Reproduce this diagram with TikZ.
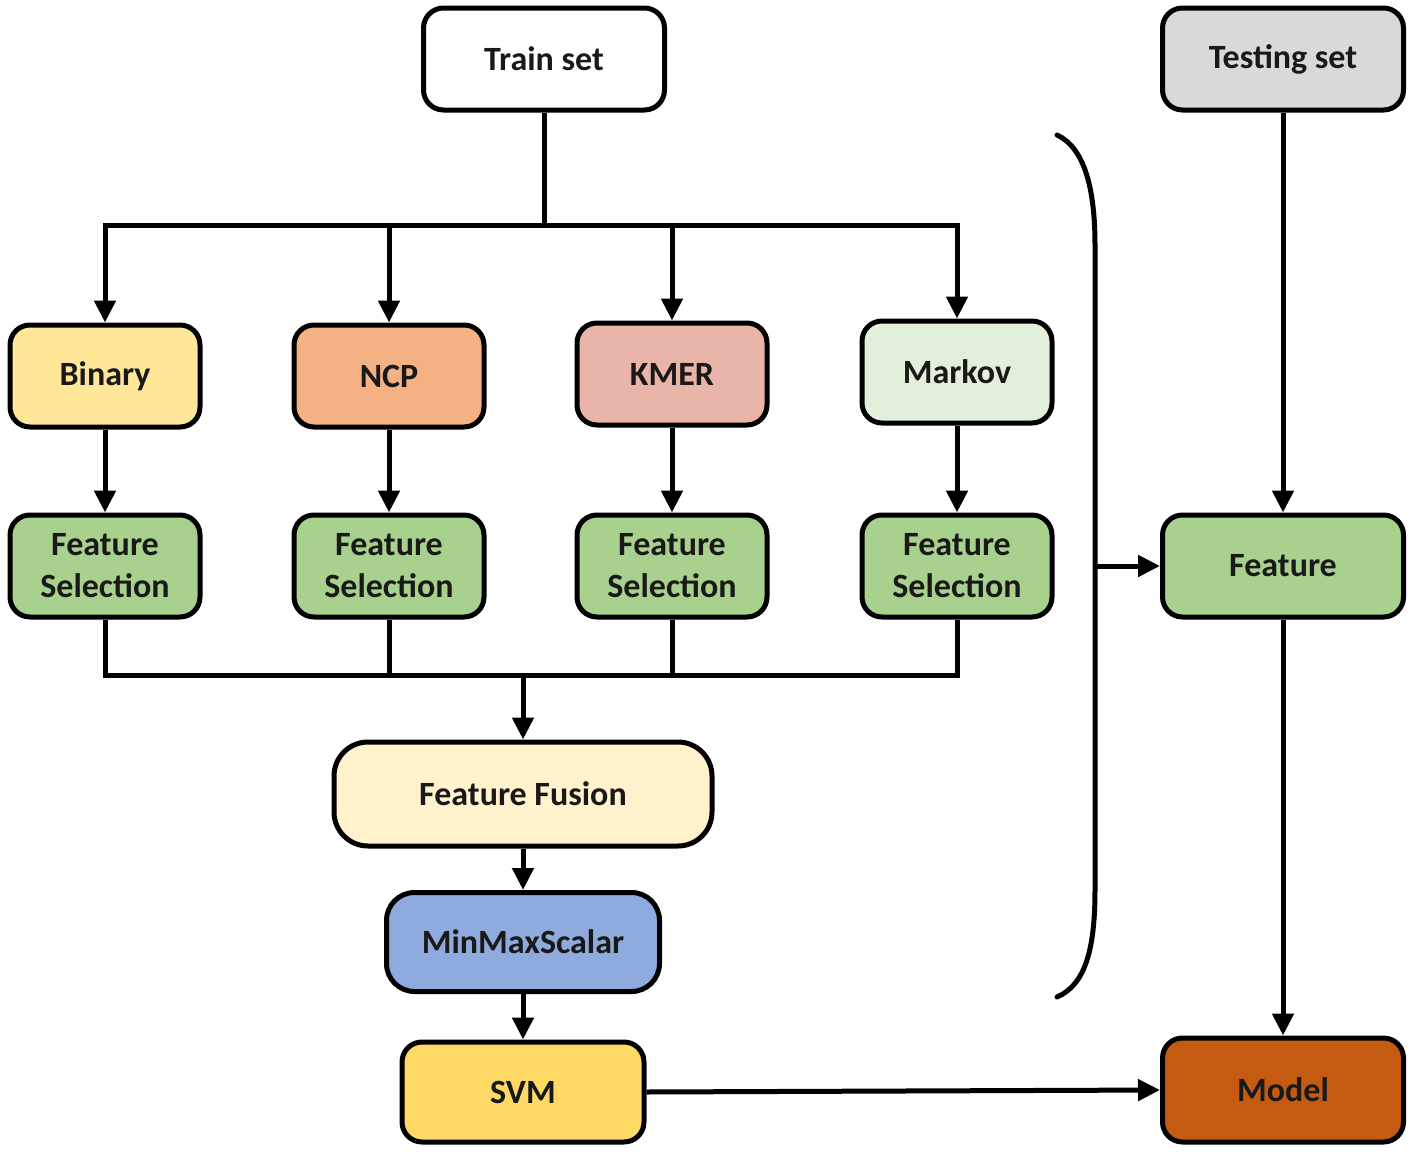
\documentclass[tikz,border=0pt]{standalone}
\usepackage{fontspec}
\setmainfont{Carlito}
\usetikzlibrary{arrows.meta}
\definecolor{cTest}{HTML}{D9D9D9}
\definecolor{cBin}{HTML}{FFE699}
\definecolor{cNCP}{HTML}{F4B183}
\definecolor{cKmer}{HTML}{E9B5A9}
\definecolor{cMarkov}{HTML}{E2EFDA}
\definecolor{cFS}{HTML}{A9D18E}
\definecolor{cFusion}{HTML}{FFF2CC}
\definecolor{cMinMax}{HTML}{8FAADC}
\definecolor{cSVM}{HTML}{FFD966}
\definecolor{cModel}{HTML}{C55A11}
\tikzset{
  box/.style={draw=black, line width=5pt, rounded corners=20pt, inner sep=0pt,
    minimum width=190pt, minimum height=102pt, align=center,
    font=\fontsize{34}{42}\selectfont\bfseries, text=black!90},
  wbox/.style={box, minimum width=241pt},
  conn/.style={line width=5pt, draw=black},
  arr/.style={conn, -{Triangle[width=21pt,length=22pt]}},
}
\begin{document}
\begin{tikzpicture}[x=1pt,y=-1pt]
\useasboundingbox (0,0) rectangle (1417,1159);
% nodes
\node[wbox, fill=white] (train) at (544,59) {Train set};
\node[wbox, fill=cTest] (test) at (1283,59) {Testing set};
\node[box, fill=cBin] (bin) at (105,376) {Binary};
\node[box, fill=cNCP] (ncp) at (389,376) {NCP};
\node[box, fill=cKmer] (kmer) at (672,374) {KMER};
\node[box, fill=cMarkov] (markov) at (957,372) {Markov};
\node[box, fill=cFS] (fs1) at (105,566) {Feature\\Selection};
\node[box, fill=cFS] (fs2) at (389,566) {Feature\\Selection};
\node[box, fill=cFS] (fs3) at (672,566) {Feature\\Selection};
\node[box, fill=cFS] (fs4) at (957,566) {Feature\\Selection};
\node[box, fill=cFusion, minimum width=378pt, minimum height=104pt, rounded corners=34pt] (fusion) at (523,794) {Feature Fusion};
\node[box, fill=cMinMax, minimum width=273pt, minimum height=99pt, rounded corners=28pt] (minmax) at (523,942) {MinMaxScalar};
\node[box, fill=cSVM, minimum width=242pt, minimum height=100pt] (svm) at (523,1092) {SVM};
\node[wbox, fill=cFS] (feat) at (1283,566) {Feature};
\node[wbox, fill=cModel, minimum height=104pt] (model) at (1283,1090) {Model};
% coordinates
\coordinate (split) at (544,225);
\coordinate (merge) at (523,675);
\coordinate (brT) at (1057,135);
\coordinate (brU) at (1095,245);
\coordinate (brM) at (1095,566);
\coordinate (brL) at (1095,890);
\coordinate (brB) at (1057,997);
% connectors
\draw[conn] (train.south) -- (split);
\draw[arr] (split) -| (bin.north);
\draw[arr] (split) -| (ncp.north);
\draw[arr] (split) -| (kmer.north);
\draw[arr] (split) -| (markov.north);
\draw[arr] (bin) -- (fs1);
\draw[arr] (ncp) -- (fs2);
\draw[arr] (kmer) -- (fs3);
\draw[arr] (markov) -- (fs4);
\draw[conn] (fs1.south) |- (merge);
\draw[conn] (fs2.south) |- (merge);
\draw[conn] (fs3.south) |- (merge);
\draw[conn] (fs4.south) |- (merge);
\draw[arr] (merge) -- (fusion.north);
\draw[arr] (fusion) -- (minmax);
\draw[arr] (minmax) -- (svm);
\draw[arr] (svm.east) -- (model.west);
\draw[arr] (test) -- (feat);
\draw[arr] (feat) -- (model);
\draw[conn, line cap=round] (brT) .. controls (1085,148) and (1095,190) .. (brU) -- (brL) .. controls (1095,950) and (1085,985) .. (brB);
\draw[arr] (brM) -- (feat.west);
\end{tikzpicture}
\end{document}
